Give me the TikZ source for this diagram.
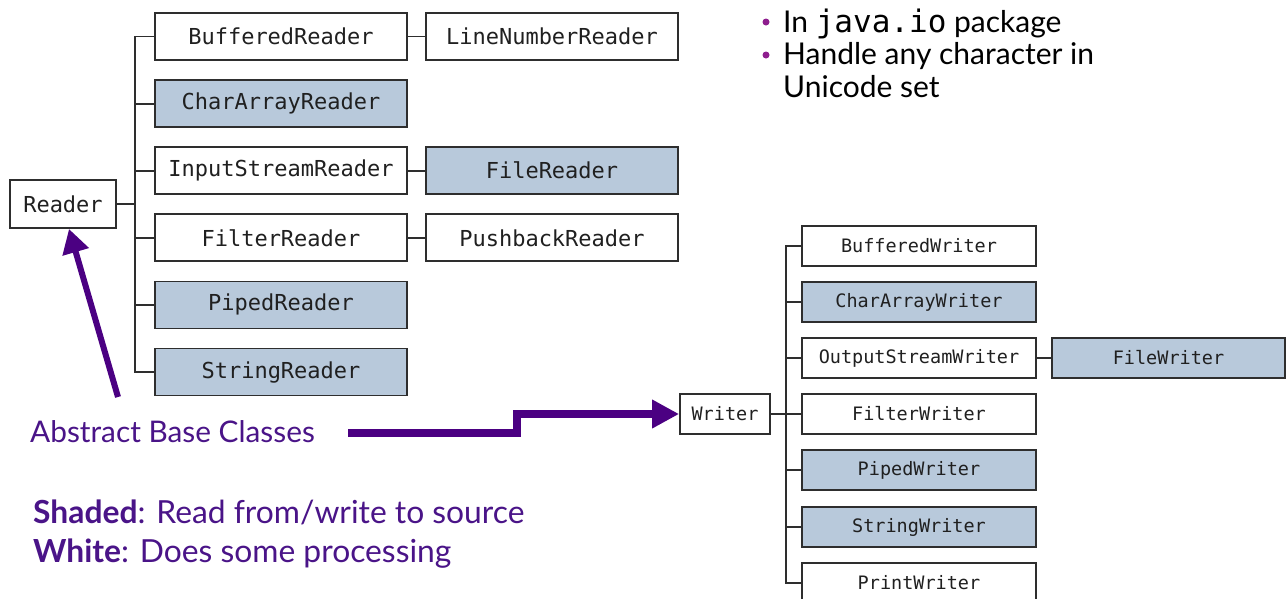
\documentclass[tikz,border=0pt]{standalone}
\usepackage{fontspec}
\setmainfont{Lato}
\newfontfamily\boxmono{DejaVu Sans Mono}
\newfontfamily\codemono{DejaVu Sans Mono}
\usetikzlibrary{arrows.meta}
\definecolor{boxline}{HTML}{2E2E2E}
\definecolor{boxtext}{HTML}{202020}
\definecolor{shade}{HTML}{B8C9DB}
\definecolor{apurple}{HTML}{4B0082}
\definecolor{tpurple}{HTML}{4A1488}
\definecolor{bpurple}{HTML}{8E1E8E}
\begin{document}
\begin{tikzpicture}[x=1pt,y=-1pt]
\tikzset{
  cls/.style={draw=boxline, line width=1.8pt, fill=white, text=boxtext, inner sep=0pt,
    font=\boxmono\fontsize{22}{22}\selectfont, minimum width=252pt, minimum height=47pt},
  wcls/.style={cls, font=\boxmono\fontsize{18.5}{18.5}\selectfont, minimum width=234pt, minimum height=40pt},
  shd/.style={fill=shade},
  tree/.style={draw=boxline, line width=1.8pt},
  bigarrow/.style={draw=apurple, line width=6pt, -{Triangle[width=26pt,length=24pt]}},
  ptext/.style={anchor=base west, inner sep=0pt, text=tpurple},
  btext/.style={anchor=base west, inner sep=0pt, text=black, font=\fontsize{30}{30}\selectfont},
}
\useasboundingbox (0,0) rectangle (1286,598);
\fill[white] (0,0) rectangle (1286,598);

% ---------- Reader tree ----------
\node[cls, minimum width=106pt, minimum height=48pt] (reader) at (63,204) {Reader};
\node[cls] (br)  at (281,36.5)  {BufferedReader};
\node[cls,shd] (car) at (281,103.6) {CharArrayReader};
\node[cls] (isr) at (281,170.7) {InputStreamReader};
\node[cls] (fr)  at (281,237.8) {FilterReader};
\node[cls,shd] (pr)  at (281,304.9) {PipedReader};
\node[cls,shd] (sr)  at (281,372)   {StringReader};
\node[cls] (lnr) at (552,36.5)  {LineNumberReader};
\node[cls,shd] (filr) at (552,170.7) {FileReader};
\node[cls] (pbr) at (552,237.8) {PushbackReader};

\coordinate (rsp) at (135,204);
\draw[tree] (reader.east) -- (rsp);
\draw[tree] (br.west) -- (rsp |- br.west) -- (rsp |- sr.west) -- (sr.west);
\foreach \n in {car,isr,fr,pr} \draw[tree] (rsp |- \n.west) -- (\n.west);
\draw[tree] (br.east) -- (lnr.west);
\draw[tree] (isr.east) -- (filr.west);
\draw[tree] (fr.east) -- (pbr.west);

% ---------- Writer tree ----------
\node[wcls, minimum width=90pt] (writer) at (725,414) {Writer};
\node[wcls] (bw)  at (919,246) {BufferedWriter};
\node[wcls,shd] (caw) at (919,302) {CharArrayWriter};
\node[wcls] (osw) at (919,358) {OutputStreamWriter};
\node[wcls] (fw)  at (919,414) {FilterWriter};
\node[wcls,shd] (pw)  at (919,470) {PipedWriter};
\node[wcls,shd] (sw)  at (919,527) {StringWriter};
\node[wcls] (prw) at (919,583) {PrintWriter};
\node[wcls,shd, minimum width=233pt] (filw) at (1168.5,358) {FileWriter};

\coordinate (wsp) at (786,414);
\draw[tree] (writer.east) -- (wsp);
\draw[tree] (bw.west) -- (wsp |- bw.west) -- (wsp |- prw.west) -- (prw.west);
\foreach \n in {caw,osw,fw,pw,sw} \draw[tree] (wsp |- \n.west) -- (\n.west);
\draw[tree] (osw.east) -- (filw.west);

% ---------- arrows ----------
\coordinate (a1) at (118,397);
\draw[bigarrow] (a1) -- ([xshift=6pt]reader.south);
\coordinate (a2) at (348,433);
\coordinate (a2b) at (517,433);
\draw[bigarrow, line width=7.5pt, -{Triangle[width=27pt,length=27pt]}] (a2) -- (a2b) |- (writer.west);

% ---------- texts ----------
\node[ptext, font=\fontsize{29.8}{29.8}\selectfont] (abc) at (30,442) {Abstract Base Classes};
\node[ptext, font=\fontsize{31.8}{31.8}\selectfont] (shd) at (33,523) {\textbf{Shaded}: Read from/write to source};
\node[ptext, font=\fontsize{31.8}{31.8}\selectfont] (wht) at (33,562) {\textbf{White}: Does some processing};

\node[circle, fill=bpurple, minimum size=7pt, inner sep=0pt] (b1) at (766,22) {};
\node[circle, fill=bpurple, minimum size=7pt, inner sep=0pt] (b2) at (766,55) {};
\node[btext] (t1) at (783,32) {In {\codemono\fontsize{31}{31}\selectfont java.io} package};
\node[btext] (t2) at (783,64) {Handle any character in};
\node[btext] (t3) at (783,97) {Unicode set};
\end{tikzpicture}
\end{document}
